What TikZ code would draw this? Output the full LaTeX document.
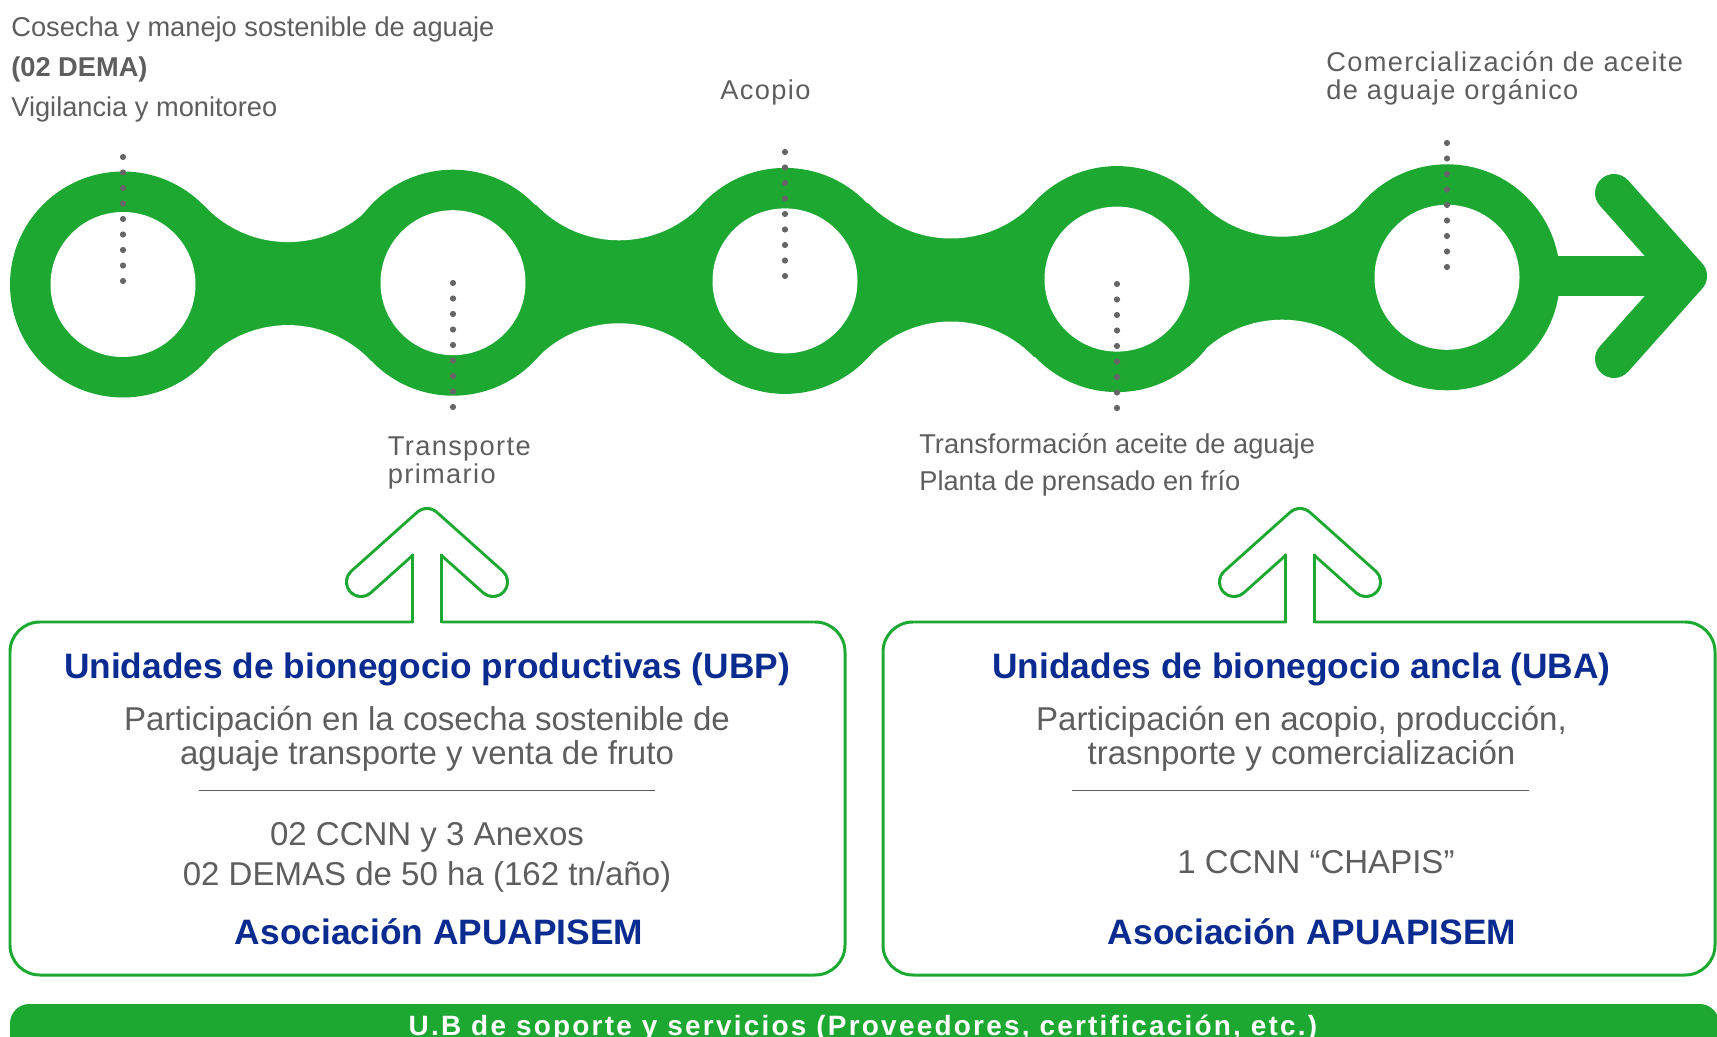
\documentclass[tikz,border=0pt]{standalone}
\usepackage{fontspec}
\setmainfont{Liberation Sans}
\newfontfamily\spacedfont[LetterSpace=5]{Liberation Sans}
\newfontfamily\barfont[LetterSpace=8]{Liberation Sans}
\usepackage{xcolor}
\usepackage{tikz}
\usetikzlibrary{calc}
\definecolor{ubgreen}{HTML}{1DA832}
\definecolor{ubblue}{HTML}{0A2B8F}
\definecolor{txtgray}{HTML}{5E5E5E}
\definecolor{dotgray}{HTML}{666666}
\tikzstyle{steplbl}=[inner sep=0pt,text=txtgray,align=left,font=\fontsize{15.5}{22.8}\selectfont]
\tikzstyle{spacedlbl}=[steplbl,font=\spacedfont\fontsize{15.5}{16.1}\selectfont]
\tikzstyle{boxttl}=[inner sep=0pt,text=ubblue,font=\bfseries\fontsize{20.1}{24}\selectfont]
\tikzstyle{boxtxt}=[inner sep=0pt,text=txtgray,align=center,font=\fontsize{18.8}{18.8}\selectfont]
\tikzstyle{boxframe}=[draw=ubgreen,line width=1.7pt,rounded corners=17pt]
\tikzstyle{uparr}=[draw=ubgreen,line width=1.7pt,double=white,double distance=14.8pt,line cap=round,line join=round]
\tikzstyle{stemline}=[draw=ubgreen,line width=1.7pt,line cap=rect]
\tikzstyle{sepline}=[draw=txtgray,line width=0.85pt]

\begin{document}
\begin{tikzpicture}[x=0.02cm,y=-0.02cm]
\useasboundingbox (0,0) rectangle (1717,1037);
% chain of rings
\foreach \i/\cx/\cy in {1/123/284.5,2/453/282.7,3/785/280.9,4/1117/279.1,5/1447/277.3}
  \coordinate (c\i) at (\cx,\cy);
\foreach \a/\b in {1/2,2/3,3/4,4/5} {
  \fill[ubgreen] ($(c\a)+(0,-78)$) rectangle ($(c\b)+(0,78)$);
  \fill[white] ($(c\a)!.5!(c\b)+(0,-155.8)$) circle (114.3);
  \fill[white] ($(c\a)!.5!(c\b)+(0,155.8)$) circle (114.3);
}
\fill[ubgreen] ($(c5)+(0,-21)$) rectangle (1690,296);
\foreach \i in {1,...,5} {
  \fill[ubgreen] (c\i) circle (113);
  \fill[white] (c\i) circle (72.5);
}
\draw[ubgreen,line width=21.6pt,line cap=round,line join=round] (1614,193) -- (1688,276) -- (1614,359);
% dotted markers
\foreach \x/\ya in {123/157,453/283,785/152,1117/284,1447/143}
  \foreach \k in {0,...,8}
    \fill[dotgray] (\x,\ya+15.5*\k) circle (3.1);
% step labels (multi-line nodes sit on their last baseline)
\node[steplbl,anchor=base west] (cosecha) at (11,116.7) {Cosecha y manejo sostenible de aguaje\\\textbf{(02 DEMA)}\\Vigilancia y monitoreo};
\node[spacedlbl,anchor=base west] (acopio) at (720,100) {Acopio};
\node[spacedlbl,anchor=base west] (comerc) at (1326,100) {Comercialización de aceite\\de aguaje orgánico};
\node[spacedlbl,anchor=base west] (transp) at (387.5,483.3) {Transporte\\primario};
\node[steplbl,anchor=base west,font=\fontsize{15.5}{20.9}\selectfont] (transf) at (919,490) {Transformación aceite de aguaje\\Planta de prensado en frío};
% boxes
\draw[boxframe] (10,622) rectangle (845,975);
\draw[boxframe] (883,622) rectangle (1715,975);
\foreach \ax in {427,1300} {
  \draw[uparr] (\ax-66,582) -- (\ax,523) -- (\ax+66,582);
  \fill[white] (\ax-14.5,538) rectangle (\ax+14.5,624);
  \draw[stemline] (\ax-14.5,555) -- (\ax-14.5,622);
  \draw[stemline] (\ax+14.5,555) -- (\ax+14.5,622);
}
\node[boxttl,anchor=base] (ubp) at (427,678.3) {Unidades de bionegocio productivas (UBP)};
\node[boxtxt,anchor=base] (ubp txt) at (427,764) {Participación en la cosecha sostenible de\\aguaje transporte y venta de fruto};
\draw[sepline] (199,790.6) -- (655,790.6);
\node[boxtxt,anchor=base,font=\fontsize{18.8}{22.8}\selectfont] (ubp data) at (427,885.5) {02 CCNN y 3 Anexos\\02 DEMAS de 50 ha (162 tn/año)};
\node[boxttl,anchor=base] (ubp asoc) at (439,944) {Asociación APUAPISEM};
\node[boxttl,anchor=base] (uba) at (1301.5,678.3) {Unidades de bionegocio ancla (UBA)};
\node[boxtxt,anchor=base] (uba txt) at (1301.5,764) {Participación en acopio, producción,\\trasnporte y comercialización};
\draw[sepline] (1072,790.6) -- (1529,790.6);
\node[boxtxt,anchor=base] (uba data) at (1316,873.5) {1 CCNN “CHAPIS”};
\node[boxttl,anchor=base] (uba asoc) at (1312,944) {Asociación APUAPISEM};
% support bar
\fill[ubgreen,rounded corners=11pt] (10,1004) rectangle (1719,1080);
\node[inner sep=0pt,anchor=base,text=white,font=\barfont\bfseries\fontsize{15.9}{18}\selectfont] (soporte) at (863,1035) {U.B de soporte y servicios (Proveedores, certificación, etc.)};
\end{tikzpicture}
\end{document}
